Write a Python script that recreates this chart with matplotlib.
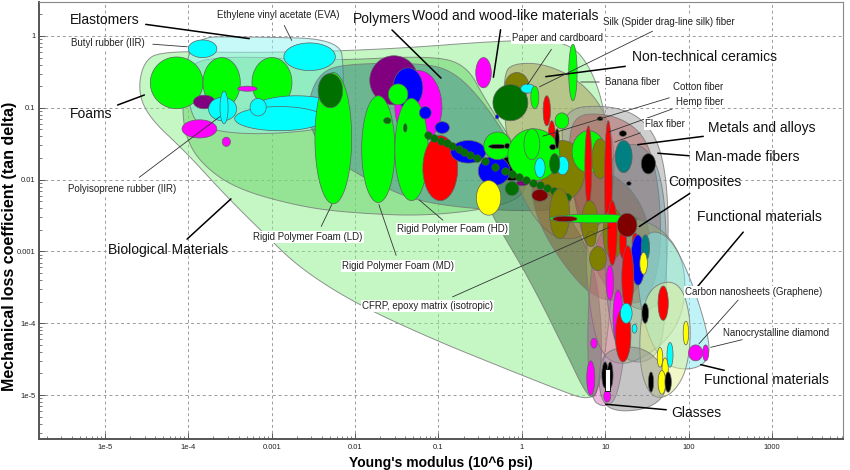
import numpy as np
import matplotlib
matplotlib.use("Agg")
import matplotlib.pyplot as plt

plt.rcParams['font.family'] = ['Liberation Sans', 'DejaVu Sans']

# ------------------------------------------------------------------
# Data: Young's modulus (10^6 psi) and loss coefficient (tan delta)
# ------------------------------------------------------------------
x_ticks = [1e-5, 1e-4, 1e-3, 1e-2, 1e-1, 1, 10, 100, 1000]
x_tick_labels = ['1e-5', '1e-4', '0.001', '0.01', '0.1', '1', '10', '100', '1000']
y_ticks = [1e-5, 1e-4, 1e-3, 1e-2, 1e-1, 1]
y_tick_labels = ['1e-5', '1e-4', '0.001', '0.01', '0.1', '1']

# Family envelopes (outline points: modulus, loss coefficient)
bio_E = [2.5e-5, 2.85e-5, 4.6e-5, 5.5e-4, 2e-2, 0.73, 3.6, 6.9, 10.3, 12.1, 12.1, 8.6, 6.2, 2.85, 0.55, 0.08, 1e-2, 2.2e-3, 8.4e-4, 2.8e-4, 9.1e-5, 3.5e-5]
bio_eta = [0.16, 0.42, 0.62, 0.58, 0.64, 0.88, 0.85, 0.35, 0.077, 0.0051, 2.1e-4, 1.17e-5, 8.5e-6, 1.17e-5, 2.5e-5, 6.2e-5, 1.9e-4, 5.8e-4, 1.7e-3, 6e-3, 0.025, 0.07]
foam_E = [8.4e-5, 9.5e-5, 3.2e-4, 5e-3, 6.9e-2, 0.21, 0.37, 0.83, 1.25, 0.72, 0.08, 1e-2, 2.2e-3, 3.65e-4, 1.4e-4, 9.1e-5]
foam_eta = [0.13, 0.42, 0.53, 0.45, 0.53, 0.42, 0.125, 0.03, 0.0083, 0.0044, 0.0031, 0.0034, 0.0042, 0.0075, 0.017, 0.041]
elast_E = [9.1e-5, 5.5e-4, 6.6e-3, 7.3e-3, 7.1e-3, 5e-3, 7.3e-4, 1.8e-4, 1e-4]
elast_eta = [0.97, 0.97, 0.91, 0.33, 0.09, 0.051, 0.042, 0.048, 0.077]
poly_E = [2.7e-3, 3.8e-3, 7.5e-3, 6.9e-2, 0.16, 0.37, 0.83, 2.85, 4.3, 2.85, 0.55, 0.105, 3.5e-2, 6.6e-3, 3e-3]
poly_eta = [0.125, 0.31, 0.41, 0.42, 0.31, 0.11, 0.025, 0.0097, 0.0054, 0.0037, 0.0037, 0.0044, 0.006, 0.016, 0.041]
wedge_E = [0.31, 0.95, 2.85, 7.5, 9.4, 8.2, 6.2, 3.3, 1.25, 0.47]
wedge_eta = [0.0083, 0.0115, 0.0051, 7.5e-4, 5.8e-5, 1e-5, 9e-6, 4.2e-5, 4e-4, 0.0027]
ntc_E = [0.6, 0.83, 1.9, 5, 10, 13.2, 12.1, 6.5, 2.85, 1.43, 0.83, 0.63]
ntc_eta = [0.31, 0.42, 0.41, 0.24, 0.09, 0.025, 0.0051, 0.0017, 0.0014, 0.0027, 0.0097, 0.048]
fiber_E = [2.85, 11.4, 30, 51, 59, 50, 30, 15.2, 6.5, 3.3]
fiber_eta = [0.097, 0.11, 0.07, 0.021, 0.002, 2.1e-4, 1.4e-4, 2.1e-4, 0.0014, 0.013]
metal_E = [3.75, 10, 23, 36, 46, 46, 33, 17.2, 8.6, 5, 3.75]
metal_eta = [0.077, 0.085, 0.056, 0.025, 0.0051, 7.5e-4, 2.1e-4, 1.8e-4, 4e-4, 0.002, 0.013]
comp_E = [1.25, 3.75, 15.2, 33, 35, 20, 7.5, 2.85, 1.43]
comp_eta = [0.0115, 0.018, 0.0115, 0.0032, 6.4e-4, 2.1e-4, 2.1e-4, 7.5e-4, 0.0032]
olv_E = [5.7, 15.2, 46, 90, 90, 51, 17.2, 8.6, 6.2]
olv_eta = [0.002, 0.0032, 0.0023, 7.5e-4, 1.5e-4, 5e-5, 2.45e-5, 3.6e-5, 2.1e-4]
tech_E = [10.9, 26, 48, 56, 51, 35, 17.2, 11.4, 9.4]
tech_eta = [0.025, 0.035, 0.013, 0.001, 5.8e-5, 2.9e-5, 2.9e-5, 8e-5, 0.001]
pink_E = [7.5, 13.2, 18.5, 18, 14, 9.8, 6.5, 6]
pink_eta = [0.0017, 0.0023, 7.5e-4, 5.8e-5, 9e-6, 6.6e-6, 9e-6, 1.1e-4]
func1_E = [30, 59, 109, 180, 170, 102, 51, 30, 23]
func1_eta = [0.002, 0.0017, 4e-4, 5.8e-5, 2.9e-5, 2.2e-5, 2.6e-5, 8e-5, 5.4e-4]
func2_E = [35, 78, 109, 97, 61, 36, 26, 26]
func2_eta = [3.4e-4, 4e-4, 1.1e-4, 2.2e-5, 9.7e-6, 9e-6, 2.2e-5, 1.1e-4]
glass_E = [9.4, 26, 51, 56, 35, 15.2, 9.4, 8.2]
glass_eta = [4.2e-5, 5e-5, 2.6e-5, 1.1e-5, 6.6e-6, 5.8e-6, 7.3e-6, 1.6e-5]

# Material bubbles: (class colour key, E_low, E_high, eta_low, eta_high)
foam_bubbles = [
    ('g', 3.5e-5, 1.5e-4, 0.097, 0.51), ('g', 1.5e-4, 4.2e-4, 0.1, 0.5),
    ('g', 5.8e-4, 1.75e-3, 0.1, 0.5), ('c', 1.0e-4, 2.2e-4, 0.5, 0.88),
    ('c', 1.4e-3, 5.8e-3, 0.33, 0.8), ('m', 3.9e-4, 6.7e-4, 0.17, 0.2),
    ('p', 1.15e-4, 2.1e-4, 0.097, 0.15), ('c', 1.75e-4, 3.8e-4, 0.066, 0.14),
    ('c', 2.4e-4, 3.0e-4, 0.06, 0.17), ('c', 5.5e-4, 7.1e-3, 0.056, 0.147),
    ('c', 3.6e-4, 4.3e-3, 0.048, 0.104), ('c', 5.5e-4, 8.6e-4, 0.077, 0.135),
    ('m', 8.4e-5, 2.2e-4, 0.038, 0.068), ('m', 2.55e-4, 3.2e-4, 0.029, 0.039),
]
polymer_bubbles = [
    ('p', 1.5e-2, 5.7e-2, 0.11, 0.53), ('m', 3.0e-2, 0.11, 0.032, 0.33),
    ('b', 2.85e-2, 6.5e-2, 0.1, 0.36), ('g', 3.3e-3, 9.1e-3, 0.0046, 0.31),
    ('dg', 3.6e-3, 7.1e-3, 0.1, 0.3), ('g', 1.2e-2, 3.0e-2, 0.0048, 0.147),
    ('g', 3.0e-2, 7.5e-2, 0.0051, 0.135), ('g', 2.5e-2, 4.3e-2, 0.11, 0.215),
    ('dg', 2.2e-2, 2.7e-2, 0.06, 0.073), ('dg', 3.8e-2, 4.2e-2, 0.046, 0.06),
    ('b', 5.9e-2, 8.2e-2, 0.07, 0.104), ('b', 9.1e-2, 0.135, 0.044, 0.064),
    ('r', 6.5e-2, 0.17, 0.0051, 0.041), ('k', 0.51, 1.1, 0.0097, 0.021),
    ('b', 0.14, 0.37, 0.017, 0.035), ('b', 0.3, 0.72, 0.0083, 0.021),
    ('g', 0.35, 0.75, 0.019, 0.046), ('k', 0.4, 0.65, 0.027, 0.031),
    ('k', 0.62, 0.72, 0.027, 0.032), ('y', 0.285, 0.56, 0.0032, 0.0097),
    ('p', 0.86, 1.18, 0.0082, 0.0097), ('mr', 1.32, 2.05, 0.005, 0.0073),
    ('dg', 0.63, 0.92, 0.006, 0.0094),
]
natural_bubbles = [
    ('m', 0.28, 0.43, 0.19, 0.5), ('o', 0.63, 1.21, 0.13, 0.31),
    ('dg', 0.45, 1.18, 0.066, 0.21), ('c', 0.97, 1.43, 0.16, 0.215),
    ('g', 1.28, 1.6, 0.097, 0.2), ('g', 3.65, 4.6, 0.125, 0.77),
    ('b', 0.48, 0.53, 0.07, 0.08), ('r', 1.8, 2.2, 0.056, 0.147),
    ('g', 2.5, 3.65, 0.051, 0.085), ('r', 2.05, 2.55, 0.016, 0.066),
    ('k', 8, 9.4, 0.066, 0.075), ('k', 14.7, 18, 0.04, 0.048),
    ('o', 1.64, 5.7, 0.0051, 0.035), ('g', 0.68, 2.85, 0.0097, 0.051),
    ('g', 4, 10, 0.0125, 0.048), ('g', 1.06, 1.64, 0.019, 0.051),
    ('c', 1.43, 1.9, 0.0107, 0.02), ('c', 2.6, 3.65, 0.0117, 0.021),
    ('dg', 2.15, 2.85, 0.012, 0.023), ('k', 2.5, 2.8, 0.027, 0.051),
    ('k', 2.15, 2.55, 0.026, 0.031), ('o', 6.9, 10.9, 0.0103, 0.037),
    ('r', 5.7, 6.9, 0.0044, 0.056), ('r', 9.8, 12.1, 0.0012, 0.066),
    ('t', 13.2, 21, 0.0125, 0.035), ('k', 27, 40, 0.012, 0.023),
    ('k', 18, 20.5, 0.0083, 0.0094),
]
hard_bubbles = [
    ('o', 2.15, 3.75, 0.0015, 0.0075), ('o', 5.2, 8.2, 0.00125, 0.0051),
    ('o', 9.4, 16.4, 0.0008, 0.004), ('o', 5.9, 7.7, 0.00117, 0.0019),
    ('o', 6.5, 10.3, 0.00054, 0.00117), ('r', 10.6, 13.9, 0.00064, 0.0051),
    ('r', 14.7, 18, 0.0008, 0.0025), ('g', 2.15, 24, 0.0025, 0.0033),
    ('mr', 2.35, 4.6, 0.0026, 0.0031), ('mr', 13.9, 24, 0.0016, 0.0034),
    ('r', 21, 25, 0.001, 0.0018), ('b', 20.3, 30, 0.00034, 0.0017),
    ('t', 27, 34, 0.00075, 0.0017), ('y', 26, 32, 0.00048, 0.00097),
    ('m', 10.3, 12.6, 0.00021, 0.00064), ('r', 15.8, 22, 1.5e-4, 1.2e-3),
    ('m', 12.4, 16.4, 5e-5, 2.9e-4), ('r', 13.2, 20.3, 2.9e-5, 1.6e-4),
    ('c', 15.2, 21, 1e-4, 1.9e-4), ('c', 21, 24, 7.3e-5, 9.7e-5),
    ('k', 27.5, 33, 1e-4, 1.9e-4), ('r', 43, 57, 1.1e-4, 3.3e-4),
    ('y', 86, 100, 5e-5, 1.07e-4), ('m', 100, 147, 3e-5, 5e-5),
    ('m', 147, 174, 3e-5, 5e-5), ('y', 42, 49, 2.45e-5, 4.6e-5),
    ('y', 48, 57, 1.6e-5, 3.3e-5), ('c', 55, 65, 2.45e-5, 5.4e-5),
    ('y', 43, 53, 1.03e-5, 2.2e-5), ('k', 52, 62, 1.1e-5, 2.1e-5),
    ('k', 33, 38, 1.1e-5, 2.1e-5), ('m', 6, 7.5, 1e-5, 3e-5),
    ('m', 6.7, 8, 4.5e-5, 6.2e-5), ('k', 9.1, 10.9, 1.25e-5, 2.9e-5),
    ('k', 10.6, 12.4, 1.25e-5, 2.9e-5), ('m', 9.6, 11.6, 8e-6, 1.17e-5),
]
glass_box = (9.8, 11.4, 1.15e-5, 2.3e-5)

# chain of small polymer records
chain_E = [0.075, 0.089, 0.106, 0.125, 0.147, 0.174, 0.205, 0.24, 0.29, 0.36, 0.47,
           0.63, 0.77, 0.92, 1.12, 1.35, 1.64, 2.0, 2.4, 2.9, 3.5]
chain_eta = [0.042, 0.038, 0.035, 0.032, 0.029, 0.027, 0.024, 0.022, 0.02, 0.018, 0.015,
             0.013, 0.012, 0.011, 0.01, 0.0091, 0.0083, 0.0077, 0.007, 0.0064, 0.0058]

# ------------------------------------------------------------------
palette = {'g': '#00ff00', 'dg': '#007000', 'c': '#00ffff', 'm': '#ff00ff',
           'p': '#800080', 'b': '#0000ff', 'r': '#ff0000', 'y': '#ffff00',
           'o': '#808000', 't': '#008080', 'k': '#000000', 'mr': '#800000'}

fig = plt.figure(figsize=(8.5, 4.7), dpi=100)
ax = fig.add_axes([39 / 850, 31 / 470, 804 / 850, 437 / 470])
ax.set_xscale('log')
ax.set_yscale('log')
ax.set_xlim(1.62e-6, 7.1e3)
ax.set_ylim(2.45e-6, 2.97)
ax.set_axisbelow(True)
ax.grid(True, which='major', color='#9a9a9a', linestyle=(0, (3, 3)), linewidth=0.7)


def chaikin(xs, ys, n=4):
    pts = np.column_stack([np.log10(xs), np.log10(ys)])
    for _ in range(n):
        nxt = np.roll(pts, -1, axis=0)
        q = 0.75 * pts + 0.25 * nxt
        r = 0.25 * pts + 0.75 * nxt
        new = np.empty((2 * len(q), 2))
        new[0::2] = q
        new[1::2] = r
        pts = new
    return 10 ** pts[:, 0], 10 ** pts[:, 1]


envelopes = [
    (bio_E, bio_eta, '#8cf08c', 0.5),
    (foam_E, foam_eta, '#5ccf5c', 0.45),
    (elast_E, elast_eta, '#8ff5f0', 0.5),
    (poly_E, poly_eta, '#3a8090', 0.45),
    (wedge_E, wedge_eta, '#2f6a3a', 0.45),
    (ntc_E, ntc_eta, '#a89650', 0.5),
    (fiber_E, fiber_eta, '#a0a0a0', 0.5),
    (metal_E, metal_eta, '#b06060', 0.5),
    (comp_E, comp_eta, '#804020', 0.38),
    (olv_E, olv_eta, '#b8c860', 0.4),
    (tech_E, tech_eta, '#508c96', 0.35),
    (pink_E, pink_eta, '#c83ca0', 0.35),
    (func1_E, func1_eta, '#80e8f0', 0.5),
    (func2_E, func2_eta, '#e6f096', 0.5),
    (glass_E, glass_eta, '#8c8c8c', 0.5),
]
for ex, ey, col, al in envelopes:
    sx, sy = chaikin(ex, ey)
    ax.fill(sx, sy, facecolor=col, alpha=al, edgecolor='none', zorder=2)
    ax.fill(sx, sy, facecolor='none', edgecolor='#777777', linewidth=0.7, alpha=0.8, zorder=2)

t = np.linspace(0, 2 * np.pi, 80)


def bubble(key, e0, e1, h0, h1, z=3):
    cx, cy = (np.log10(e0) + np.log10(e1)) / 2, (np.log10(h0) + np.log10(h1)) / 2
    a, b = (np.log10(e1) - np.log10(e0)) / 2, (np.log10(h1) - np.log10(h0)) / 2
    ax.fill(10 ** (cx + a * np.cos(t)), 10 ** (cy + b * np.sin(t)),
            facecolor=palette[key], edgecolor='#606060', linewidth=0.5, zorder=z)


for group in (foam_bubbles, polymer_bubbles, natural_bubbles):
    for bb in group:
        bubble(*bb)
ax.scatter(chain_E, chain_eta, s=30, color='#007000', edgecolors='#505050',
           linewidths=0.4, zorder=4)
for bb in hard_bubbles:
    bubble(*bb, z=4)
ge0, ge1, gh0, gh1 = glass_box
ax.fill([ge0, ge1, ge1, ge0], [gh0, gh0, gh1, gh1], facecolor='white',
        edgecolor='black', linewidth=0.6, zorder=5)

# axes styling
ax.set_xticks(x_ticks)
ax.set_xticklabels(x_tick_labels)
ax.set_yticks(y_ticks)
ax.set_yticklabels(y_tick_labels)
ax.tick_params(which='both', direction='in', labelsize=5.5, colors='#444444',
               labelcolor='#222222')
ax.tick_params(which='major', length=4, width=0.6)
ax.tick_params(which='minor', length=2, width=0.5)
ax.tick_params(axis='y', which='major', pad=2.5)
ax.xaxis.set_minor_locator(matplotlib.ticker.LogLocator(base=10, subs=np.arange(2, 10), numticks=30))
ax.yaxis.set_minor_locator(matplotlib.ticker.LogLocator(base=10, subs=np.arange(2, 10), numticks=30))
ax.xaxis.set_minor_formatter(matplotlib.ticker.NullFormatter())
ax.yaxis.set_minor_formatter(matplotlib.ticker.NullFormatter())
for s in ('left', 'bottom'):
    ax.spines[s].set_color('#555555')
    ax.spines[s].set_linewidth(1.4)
for s in ('top', 'right'):
    ax.spines[s].set_color('#888888')
    ax.spines[s].set_linewidth(0.8)
ax.set_xlabel("Young's modulus (10^6 psi)", fontsize=10, fontweight='bold', labelpad=4)
ax.set_ylabel('Mechanical loss coefficient (tan delta)', fontsize=11.5, fontweight='bold')
ax.yaxis.set_label_coords(-0.0275, 0.44)


# labels
def af(x, y):
    return ((x - 39) / 804, (439 - y) / 437)


big_labels = [
    ('Elastomers', (70, 20), (143, 24), (252, 39)),
    ('Polymers', (353, 19), (390, 28), (443, 80)),
    ('Wood and wood-like materials', (412, 16), (501, 27), (493, 80)),
    ('Non-technical ceramics', (632, 57), (628, 66), (543, 77)),
    ('Foams', (70, 114), (115, 106), (147, 94)),
    ('Metals and alloys', (708, 128), (706, 136), (635, 145)),
    ('Man-made fibers', (695, 157), (692, 156), (655, 153)),
    ('Composites', (668, 182), (692, 192), (637, 228)),
    ('Functional materials', (697, 217), (745, 230), (688, 298)),
    ('Biological Materials', (108, 250), (185, 241), (233, 197)),
    ('Functional materials', (704, 380), (727, 371), (698, 364)),
    ('Glasses', (671, 413), (669, 410), (603, 404)),
]
for txt, pos, p0, p1 in big_labels:
    ax.annotate('', xy=af(*p1), xytext=af(*p0), xycoords='axes fraction',
                arrowprops=dict(arrowstyle='-', color='black', lw=1.1), zorder=8)
    ax.text(*af(*pos), txt, transform=ax.transAxes, fontsize=10, ha='left',
            va='center', color='#111111', zorder=9)

small_labels = [
    ('Ethylene vinyl acetate (EVA)', (217, 15), (283, 23), (293, 43)),
    ('Butyl rubber (IIR)', (71, 43), (150, 44), (190, 47)),
    ('Polyisoprene rubber (IIR)', (68, 189), (137, 179), (222, 115)),
    ('Silk (Spider drag-line silk) fiber', (603, 22), (655, 30), (537, 88)),
    ('Paper and cardboard', (512, 38), (553, 47), (526, 87)),
    ('Banana fiber', (605, 82), (602, 82), (578, 82)),
    ('Cotton fiber', (673, 87), (672, 97), (540, 137)),
    ('Hemp fiber', (676, 102), (675, 108), (606, 133)),
    ('Flax fiber', (645, 124), (643, 132), (612, 143)),
    ('Rigid Polymer Foam (LD)', (253, 237), (320, 229), (333, 202)),
    ('Rigid Polymer Foam (MD)', (342, 266), (397, 258), (378, 202)),
    ('Rigid Polymer Foam (HD)', (397, 229), (445, 222), (417, 198)),
    ('CFRP, epoxy matrix (isotropic)', (362, 306), (450, 298), (612, 226)),
    ('Carbon nanosheets (Graphene)', (685, 292), (740, 298), (697, 346)),
    ('Nanocrystalline diamond', (723, 333), (745, 339), (708, 348)),
]
for txt, pos, p0, p1 in small_labels:
    ax.annotate('', xy=af(*p1), xytext=af(*p0), xycoords='axes fraction',
                arrowprops=dict(arrowstyle='-', color='#333333', lw=0.6), zorder=8)
    ax.text(*af(*pos), txt, transform=ax.transAxes, fontsize=7, ha='left',
            va='center', color='#222222', zorder=9,
            bbox=dict(facecolor='white', edgecolor='none', pad=1.0))

fig.savefig('out.png', dpi=100)
